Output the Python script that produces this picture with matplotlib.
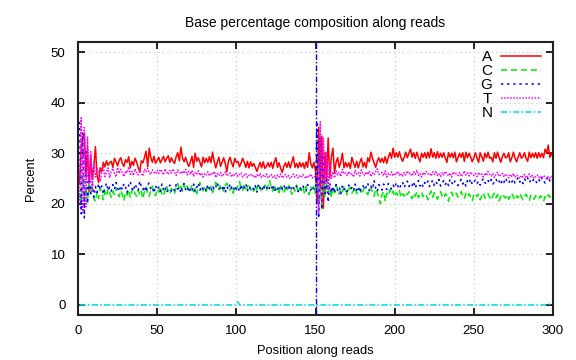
import numpy as np
import matplotlib
matplotlib.use("Agg")
import matplotlib.pyplot as plt

plt.rcParams['font.family'] = ['Liberation Sans', 'DejaVu Sans']

title = "Base percentage composition along reads"
xlabel = "Position along reads"
ylabel = "Percent"
read_boundary = 150

positions = list(range(1, 301))

A = [
24.1, 30.5, 33.2, 34.0, 25.3, 31.2, 22.4, 29.6, 24.8, 27.3,
31.3, 25.6, 24.2, 27.1, 26.4, 28.2, 27.3, 28.5, 27.6, 28.1,
28.4, 27.2, 29.0, 28.3, 27.5, 28.6, 29.1, 28.0, 27.4, 28.7,
28.2, 29.3, 27.1, 28.4, 27.6, 29.0, 28.3, 27.2, 26.4, 28.5,
28.1, 29.2, 30.4, 27.3, 31.0, 29.1, 28.2, 29.4, 28.0, 28.6,
29.2, 28.1, 28.7, 29.4, 28.3, 29.0, 29.5, 28.2, 29.1, 28.4,
28.0, 29.3, 30.1, 28.5, 31.2, 29.0, 28.3, 29.2, 28.1, 27.4,
28.3, 29.4, 27.2, 30.0, 28.4, 29.1, 28.2, 27.3, 29.2, 28.1,
29.0, 28.2, 29.3, 28.1, 30.2, 28.4, 27.1, 28.3, 29.2, 27.4,
28.2, 29.1, 28.0, 26.3, 28.4, 29.2, 28.1, 27.3, 29.0, 28.2,
28.4, 27.3, 28.1, 29.0, 28.2, 27.2, 28.4, 27.1, 28.3, 27.4,
28.0, 27.2, 26.4, 27.3, 28.2, 27.1, 28.3, 27.0, 27.4, 28.1,
27.3, 28.2, 27.0, 28.3, 29.1, 27.2, 28.1, 27.0, 26.2, 27.4,
28.1, 27.2, 28.3, 27.1, 28.2, 29.3, 27.2, 28.0, 27.1, 28.2,
27.3, 28.1, 27.0, 28.3, 27.2, 30.1, 28.0, 27.1, 28.2, 26.5,
20.2, 35.1, 22.3, 33.4, 19.1, 30.2, 24.3, 33.0, 25.1, 29.2,
31.0, 26.1, 28.2, 29.1, 27.2, 28.3, 30.0, 27.1, 28.2, 27.3,
28.1, 27.0, 29.2, 28.1, 27.2, 28.4, 27.1, 28.2, 29.0, 27.3,
28.2, 27.1, 29.1, 28.3, 30.2, 29.0, 28.1, 27.2, 28.4, 29.1,
28.2, 29.0, 28.1, 29.3, 28.0, 29.2, 30.1, 29.0, 31.0, 29.2,
30.1, 29.2, 30.3, 29.1, 28.4, 29.2, 30.2, 29.1, 30.0, 30.8,
29.2, 30.1, 29.0, 30.2, 29.1, 28.3, 30.0, 29.2, 30.1, 29.0,
30.2, 29.1, 30.9, 29.2, 30.1, 29.0, 30.3, 29.1, 30.0, 29.2,
30.1, 29.0, 28.2, 30.1, 29.2, 30.0, 29.1, 30.2, 28.3, 29.1,
30.0, 29.2, 30.1, 28.4, 30.2, 29.1, 30.0, 29.2, 28.3, 29.1,
30.1, 29.0, 28.2, 30.1, 29.3, 28.4, 30.0, 29.1, 30.2, 29.0,
29.2, 28.3, 30.1, 29.0, 30.2, 29.1, 28.2, 29.3, 30.0, 29.1,
29.2, 30.1, 28.3, 29.1, 30.2, 29.0, 28.3, 29.2, 30.1, 29.0,
29.3, 30.1, 29.0, 28.4, 30.2, 29.1, 30.0, 29.2, 30.1, 29.0,
30.1, 29.2, 30.0, 29.1, 30.8, 30.0, 31.6, 29.2, 30.1, 29.0,
]

C = [
22.0, 20.1, 25.2, 21.0, 23.3, 20.2, 24.1, 22.0, 23.2, 21.1,
20.5, 22.3, 21.0, 23.1, 22.2, 20.8, 22.4, 21.5, 23.0, 22.1,
21.3, 22.5, 21.8, 23.2, 22.0, 21.4, 22.6, 21.9, 20.6, 22.3,
21.7, 22.8, 21.2, 22.4, 23.1, 22.0, 21.5, 22.7, 21.8, 22.5,
21.0, 22.6, 23.3, 22.1, 21.4, 22.8, 23.5, 22.2, 21.6, 22.9,
22.3, 23.4, 22.0, 21.5, 22.8, 23.6, 22.4, 21.9, 23.0, 22.6,
22.1, 23.2, 24.0, 22.7, 23.4, 22.5, 23.8, 22.9, 23.5, 22.2,
22.8, 23.6, 22.4, 23.1, 22.0, 23.5, 24.2, 23.0, 22.6, 23.3,
22.4, 23.7, 22.9, 23.4, 22.2, 23.1, 24.3, 23.5, 22.8, 23.9,
23.2, 22.5, 23.6, 24.1, 23.0, 22.7, 23.4, 22.1, 23.3, 22.8,
23.5, 24.4, 23.1, 22.6, 23.8, 22.9, 23.4, 24.0, 22.7, 23.3,
22.5, 23.6, 22.8, 23.9, 23.2, 22.4, 23.0, 23.7, 22.6, 23.4,
24.6, 23.2, 22.5, 23.8, 22.7, 23.3, 22.2, 23.5, 22.9, 22.0,
23.1, 22.4, 23.6, 22.8, 21.9, 23.2, 22.5, 23.7, 22.3, 23.0,
22.6, 23.4, 22.1, 23.5, 22.8, 21.8, 23.3, 22.9, 23.6, 22.0,
24.3, 20.1, 23.2, 19.0, 25.1, 21.3, 24.0, 22.1, 23.3, 21.2,
23.4, 22.2, 23.6, 22.8, 21.9, 23.0, 22.4, 23.5, 22.7, 21.8,
22.9, 23.3, 22.1, 22.6, 23.4, 22.0, 22.8, 23.1, 21.9, 22.5,
23.2, 22.4, 21.8, 22.7, 23.3, 22.2, 21.5, 22.9, 22.3, 21.1,
20.0, 21.8, 22.4, 20.5, 22.1, 21.6, 22.8, 21.9, 22.5, 21.4,
22.2, 21.7, 22.6, 21.3, 22.0, 21.5, 22.3, 21.8, 22.4, 21.6,
21.0, 22.1, 21.5, 22.4, 21.2, 21.9, 22.3, 21.4, 22.0, 21.6,
20.8, 21.9, 22.5, 21.3, 22.2, 21.7, 20.9, 21.8, 22.4, 21.5,
21.1, 22.0, 21.6, 20.5, 21.9, 22.3, 21.4, 21.8, 22.1, 21.3,
21.7, 22.4, 21.5, 21.0, 22.2, 21.6, 22.0, 21.3, 20.6, 21.8,
22.1, 21.4, 21.9, 20.8, 21.5, 22.2, 21.1, 21.7, 22.0, 21.3,
20.7, 21.6, 22.1, 21.2, 21.8, 20.6, 21.4, 22.0, 21.5, 21.1,
21.8, 20.9, 21.5, 22.1, 21.3, 20.7, 21.6, 21.2, 22.0, 21.4,
20.8, 21.5, 21.9, 21.1, 20.6, 21.7, 21.3, 20.9, 21.6, 21.2,
20.9, 21.6, 21.2, 20.5, 21.4, 21.0, 21.8, 21.3, 21.6, 21.2,
]

G = [
36.2, 18.0, 34.1, 17.2, 30.3, 20.1, 26.2, 22.0, 24.1, 21.3,
23.4, 22.2, 24.0, 22.8, 23.5, 21.9, 23.2, 24.1, 22.6, 23.3,
22.5, 23.8, 22.9, 24.2, 23.1, 22.4, 23.6, 22.8, 24.0, 23.3,
22.2, 23.7, 24.4, 23.0, 22.5, 23.9, 23.2, 22.6, 24.5, 23.4,
22.8, 23.5, 22.3, 23.8, 24.1, 22.9, 23.2, 22.1, 23.6, 22.7,
23.3, 22.4, 23.9, 22.8, 23.4, 22.2, 23.0, 23.7, 22.5, 23.1,
22.6, 23.8, 22.9, 23.3, 22.1, 23.6, 24.0, 22.8, 23.4, 22.3,
23.1, 22.6, 23.9, 22.4, 23.2, 24.1, 22.7, 23.5, 22.9, 23.3,
22.5, 23.8, 23.0, 22.4, 23.6, 22.8, 23.3, 24.2, 22.9, 23.1,
22.6, 23.7, 22.2, 23.4, 22.8, 23.9, 23.1, 22.5, 23.6, 22.9,
23.3, 22.4, 23.8, 22.7, 23.2, 24.0, 22.6, 23.5, 22.9, 23.3,
22.8, 23.6, 22.3, 23.9, 23.1, 22.5, 23.7, 22.9, 23.4, 22.6,
23.2, 22.7, 23.8, 22.4, 23.3, 22.9, 23.6, 22.5, 23.1, 23.8,
22.7, 23.4, 22.9, 23.7, 22.6, 23.2, 22.8, 23.5, 22.4, 23.3,
22.9, 23.6, 23.0, 22.5, 23.8, 23.2, 22.7, 23.4, 23.0, 22.8,
36.3, 17.1, 33.2, 18.9, 29.1, 22.0, 25.2, 20.3, 24.1, 22.2,
23.5, 22.1, 23.8, 22.6, 23.3, 22.0, 23.6, 22.8, 23.1, 22.4,
23.7, 22.9, 23.2, 22.5, 23.9, 22.7, 23.4, 22.2, 23.0, 23.6,
22.8, 23.3, 24.1, 22.6, 23.5, 22.9, 24.6, 23.1, 22.4, 23.8,
23.2, 22.7, 23.9, 23.4, 22.8, 24.0, 23.3, 22.9, 23.7, 23.1,
24.2, 23.5, 22.9, 23.8, 24.3, 23.2, 23.9, 24.5, 23.4, 24.0,
23.6, 24.4, 23.1, 23.9, 24.6, 23.5, 24.1, 23.3, 24.2, 23.8,
24.5, 23.4, 24.0, 24.7, 23.6, 24.3, 23.9, 24.8, 23.5, 24.1,
24.6, 23.8, 24.4, 23.6, 24.9, 24.2, 23.7, 24.5, 24.0, 23.6,
24.3, 24.8, 23.9, 24.4, 23.5, 24.6, 24.1, 24.9, 23.8, 24.3,
24.7, 24.0, 24.5, 23.7, 24.4, 25.0, 24.2, 23.9, 24.6, 24.1,
24.8, 23.9, 24.3, 24.9, 24.1, 24.5, 23.8, 24.7, 24.2, 25.1,
24.4, 24.0, 24.8, 24.3, 24.9, 24.1, 24.6, 25.2, 24.3, 24.7,
24.0, 24.9, 24.4, 25.1, 24.2, 24.7, 24.3, 25.0, 24.5, 24.1,
24.8, 24.3, 25.2, 24.6, 24.1, 24.9, 25.4, 24.5, 25.0, 24.6,
]

T = [
20.0, 37.0, 18.2, 35.1, 19.4, 33.2, 24.1, 30.3, 22.2, 28.1,
25.3, 27.0, 26.2, 24.4, 26.1, 27.2, 25.4, 26.3, 27.1, 25.2,
26.4, 27.0, 26.1, 25.3, 27.2, 26.0, 26.8, 26.2, 25.4, 26.5,
26.1, 27.3, 25.8, 26.4, 25.6, 26.9, 26.2, 25.7, 26.6, 26.0,
25.5, 26.8, 26.3, 27.0, 26.1, 25.8, 26.7, 26.2, 25.9, 26.6,
26.0, 26.8, 26.4, 25.7, 26.9, 26.3, 25.8, 26.6, 26.1, 26.9,
26.2, 25.6, 26.7, 26.3, 25.9, 26.5, 26.0, 26.8, 25.7, 26.4,
25.8, 26.6, 25.4, 26.2, 25.9, 26.5, 25.6, 26.1, 25.3, 26.0,
25.7, 26.3, 25.5, 26.1, 25.8, 26.4, 25.2, 26.0, 25.6, 26.2,
25.4, 25.9, 26.3, 25.5, 25.8, 26.1, 25.3, 25.9, 25.6, 26.0,
25.4, 25.8, 26.1, 25.3, 25.7, 26.0, 25.2, 25.6, 25.9, 25.4,
25.7, 25.1, 25.8, 25.4, 26.0, 25.2, 25.6, 25.3, 25.9, 25.1,
25.5, 25.8, 25.2, 25.6, 25.0, 25.7, 25.3, 25.9, 25.1, 25.5,
25.8, 25.2, 25.6, 25.0, 25.4, 25.9, 25.3, 25.7, 25.1, 25.5,
25.2, 25.8, 25.4, 25.0, 25.6, 25.3, 25.9, 25.1, 25.5, 25.2,
25.1, 18.0, 36.2, 20.1, 33.0, 23.9, 30.1, 22.3, 28.2, 25.0,
26.3, 25.1, 26.5, 25.7, 26.2, 25.4, 26.8, 25.9, 26.1, 25.6,
26.4, 25.8, 26.0, 25.3, 26.6, 25.9, 26.2, 25.5, 26.7, 26.0,
25.6, 26.3, 25.8, 26.5, 25.4, 26.1, 25.7, 26.4, 26.9, 25.8,
25.9, 26.2, 25.6, 26.5, 25.3, 26.0, 25.7, 26.3, 25.5, 26.1,
25.8, 26.4, 25.6, 26.0, 25.4, 26.2, 25.7, 26.5, 25.9, 26.1,
25.5, 26.3, 25.8, 26.6, 25.6, 26.0, 25.3, 26.2, 25.7, 26.4,
25.9, 26.1, 25.5, 26.3, 25.8, 26.5, 25.6, 26.0, 25.4, 26.2,
25.7, 26.4, 25.9, 25.5, 26.1, 25.3, 26.3, 25.8, 26.0, 25.6,
26.2, 25.4, 25.9, 26.5, 25.7, 26.1, 25.5, 26.3, 25.8, 25.6,
26.0, 25.4, 26.2, 25.7, 25.9, 25.3, 26.1, 25.6, 26.4, 25.8,
25.5, 26.0, 25.2, 25.8, 26.2, 25.4, 25.7, 26.0, 25.3, 25.9,
25.6, 25.1, 25.8, 25.4, 26.0, 25.2, 25.7, 25.5, 25.0, 25.6,
25.3, 25.8, 25.1, 25.5, 25.9, 25.2, 25.6, 25.0, 25.4, 25.7,
25.2, 25.5, 25.0, 25.6, 25.3, 24.9, 25.4, 25.1, 25.5, 25.2,
]

N = [0.0] * 100 + [0.6] + [0.0] * 196 + [0.2, 0.3, 0.1]

series = [
    ("A", A, "#ff0000", "-"),
    ("C", C, "#00ee00", (0, (4, 2.5))),
    ("G", G, "#0000ff", (0, (1.5, 2.5))),
    ("T", T, "#ff00ff", (0, (1, 1))),
    ("N", N, "#00dddd", (0, (4, 1.5, 1, 1.5))),
]

fig = plt.figure(figsize=(5.76, 3.6), dpi=100)
ax = fig.add_axes([78 / 576, 45 / 360, 475 / 576, 273 / 360])

for name, vals, col, ls in series:
    ax.plot(positions, vals, color=col, linestyle=ls, linewidth=1.1, label=name)

ax.axvline(read_boundary, color="#0000ff", linestyle=(0, (4, 1.5, 1, 1.5)), linewidth=1.0)

ax.set_xlim(0, 300)
ax.set_ylim(-2, 52)
ax.set_xticks(range(0, 301, 50))
ax.set_yticks(range(0, 51, 10))
ax.grid(True, color="#c8c8c8", linestyle=(0, (1, 3)), linewidth=0.8)
ax.tick_params(direction="in", top=True, right=True, length=5, width=1.2, labelsize=9.5)
ax.tick_params(axis="y", pad=9)
ax.tick_params(axis="x", pad=7)
for s in ax.spines.values():
    s.set_linewidth(1.5)
    s.set_color("#222222")

ax.set_title(title, fontsize=10, pad=11)
ax.set_xlabel(xlabel, fontsize=9.3, labelpad=6)
ax.set_ylabel(ylabel, fontsize=9.3, labelpad=10)

leg = ax.legend(loc="upper right", frameon=False, markerfirst=False, fontsize=11,
                handlelength=2.6, handletextpad=0.6, labelspacing=0.0,
                borderaxespad=0.0, bbox_to_anchor=(0.988, 0.993))
for t in leg.get_texts():
    t.set_ha("right")

fig.savefig("out.png", dpi=100)
